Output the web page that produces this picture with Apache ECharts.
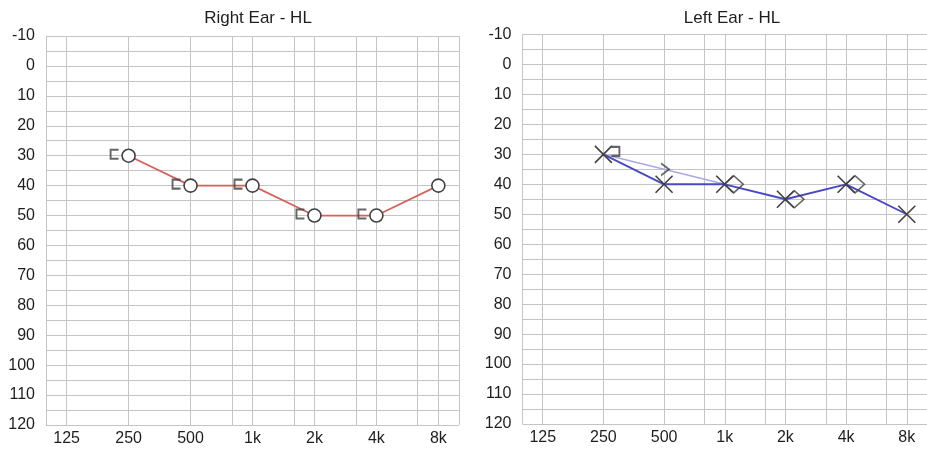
<!DOCTYPE html>
<html>
<head>
<meta charset="utf-8">
<script src="https://cdn.jsdelivr.net/npm/echarts@6/dist/echarts.min.js"></script>
<style>html,body{margin:0;padding:0;background:#fff;}#c{width:927px;height:449px;}</style>
</head>
<body>
<div id="c"></div>
<script>
// ---- data ----
const xTicks = ['125', '250', '500', '1k', '2k', '4k', '8k'];
const xInterGrid = ['750', '1.5k', '3k', '6k'];
const yTicks = [-10, 0, 10, 20, 30, 40, 50, 60, 70, 80, 90, 100, 110, 120];

const rightFreqs = ['250', '500', '1k', '2k', '4k', '8k'];
const rightAC = [30, 40, 40, 50, 50, 40];
const rightBCFreqs = ['250', '500', '1k', '2k', '4k'];
const rightBC = [30, 40, 40, 50, 50];

const leftFreqs = ['250', '500', '1k', '2k', '4k', '8k'];
const leftAC = [30, 40, 40, 45, 40, 50];
const leftBCLineFreqs = ['250', '500', '1k'];
const leftBCLine = [30, 35, 40];
const leftBracketFreqs = ['250'];
const leftBracket = [30];
const leftArrowFreqs = ['500'];
const leftArrow = [35];
const leftDiamondFreqs = ['1k', '2k', '4k'];
const leftDiamond = [40, 45, 40];

// ---- category axis in thirds of an octave ----
const cats = [];
for (let i = 0; i <= 20; i++) {
  if ((i - 1) % 3 === 0) cats.push(xTicks[(i - 1) / 3]);
  else cats.push('_' + i);
}
// inter-octave grid lines at 2/3 of octave after 500, 1k, 2k, 4k
[9, 12, 15, 18].forEach((idx, k) => { cats[idx] = xInterGrid[k]; });

const pos = f => cats.indexOf(f);
const pairs = (fs, vs) => fs.map((f, i) => [pos(f), vs[i]]);

const FONT = '"Liberation Sans", Arial, sans-serif';
const GRID_C = '#c4c4c4';
const MARK_C = '#404040';

function xAxis(gi) {
  return {
    type: 'category', gridIndex: gi, data: cats, boundaryGap: false,
    axisLine: { show: false }, axisTick: { show: false },
    axisLabel: {
      interval: (i, v) => xTicks.includes(v),
      color: '#1e1e1e', fontSize: 16, fontFamily: FONT, margin: 6
    },
    splitLine: {
      show: true,
      interval: (i, v) => i === 0 || i === cats.length - 1 || xTicks.includes(v) || xInterGrid.includes(v),
      lineStyle: { color: GRID_C, width: 1 }
    }
  };
}
function yAxis(gi) {
  return {
    type: 'value', gridIndex: gi, inverse: true, min: -10, max: 120, interval: 5,
    axisLine: { show: false }, axisTick: { show: false },
    axisLabel: {
      formatter: v => (yTicks.includes(v) ? String(v) : ''),
      color: '#1e1e1e', fontSize: 16, fontFamily: FONT, margin: 11
    },
    splitLine: { show: true, lineStyle: { color: GRID_C, width: 1 } }
  };
}

const SYM_X = 'path://M0,0 L16,16 M16,0 L0,16';
const SYM_LB = 'path://M8,0 L0,0 L0,9 L8,9';
const SYM_RB = 'path://M0,0 L8,0 L8,9 L0,9';
const SYM_GT = 'path://M0,0 L8,6 L0,12';
const strokeOnly = { color: 'transparent', borderColor: MARK_C, borderWidth: 1.6 };

const option = {
  animation: false,
  backgroundColor: '#fff',
  title: [
    { text: 'Right Ear - HL', left: 253, top: 5, textAlign: 'center',
      textStyle: { fontSize: 17, fontWeight: 'normal', color: '#1e1e1e', fontFamily: FONT } },
    { text: 'Left Ear - HL', left: 727, top: 5, textAlign: 'center',
      textStyle: { fontSize: 17, fontWeight: 'normal', color: '#1e1e1e', fontFamily: FONT } }
  ],
  grid: [
    { left: 46, top: 36, width: 413, height: 389 },
    { left: 522.5, top: 34.5, width: 410, height: 389.5 }
  ],
  xAxis: [xAxis(0), xAxis(1)],
  yAxis: [yAxis(0), yAxis(1)],
  series: [
    // Right ear air conduction
    { type: 'line', xAxisIndex: 0, yAxisIndex: 0, data: pairs(rightFreqs, rightAC),
      symbol: 'circle', symbolSize: 13,
      itemStyle: { color: '#fff', borderColor: MARK_C, borderWidth: 1.6 },
      lineStyle: { color: '#d4625a', width: 1.7 }, z: 3 },
    // Right ear bone conduction brackets
    { type: 'scatter', xAxisIndex: 0, yAxisIndex: 0, data: pairs(rightBCFreqs, rightBC),
      symbol: SYM_LB, symbolSize: [8, 9], symbolOffset: [-14, -1.5],
      itemStyle: { color: 'transparent', borderColor: MARK_C, borderWidth: 2 }, z: 4 },
    // Left ear light line
    { type: 'line', xAxisIndex: 1, yAxisIndex: 1, data: pairs(leftBCLineFreqs, leftBCLine),
      showSymbol: false, symbol: 'none',
      lineStyle: { color: '#a9a9e6', width: 1.6 }, z: 2 },
    // Left ear air conduction
    { type: 'line', xAxisIndex: 1, yAxisIndex: 1, data: pairs(leftFreqs, leftAC),
      symbol: SYM_X, symbolSize: 17,
      itemStyle: strokeOnly,
      lineStyle: { color: '#4848c4', width: 1.9 }, z: 3 },
    // Left ear ']' marker
    { type: 'scatter', xAxisIndex: 1, yAxisIndex: 1, data: pairs(leftBracketFreqs, leftBracket),
      symbol: SYM_RB, symbolSize: [8, 9], symbolOffset: [12, -3],
      itemStyle: { color: 'transparent', borderColor: MARK_C, borderWidth: 2 }, z: 4 },
    // Left ear '>' marker
    { type: 'scatter', xAxisIndex: 1, yAxisIndex: 1, data: pairs(leftArrowFreqs, leftArrow),
      symbol: SYM_GT, symbolSize: [8, 12], symbolOffset: [1, 0],
      itemStyle: strokeOnly, z: 4 },
    // Left ear diamonds
    { type: 'scatter', xAxisIndex: 1, yAxisIndex: 1, data: pairs(leftDiamondFreqs, leftDiamond),
      symbol: 'diamond', symbolSize: [19, 17], symbolOffset: [9, 0],
      itemStyle: strokeOnly, z: 4 }
  ]
};

const chart = echarts.init(document.getElementById('c'), null, { renderer: 'canvas' });
chart.setOption(option);
</script>
</body>
</html>
